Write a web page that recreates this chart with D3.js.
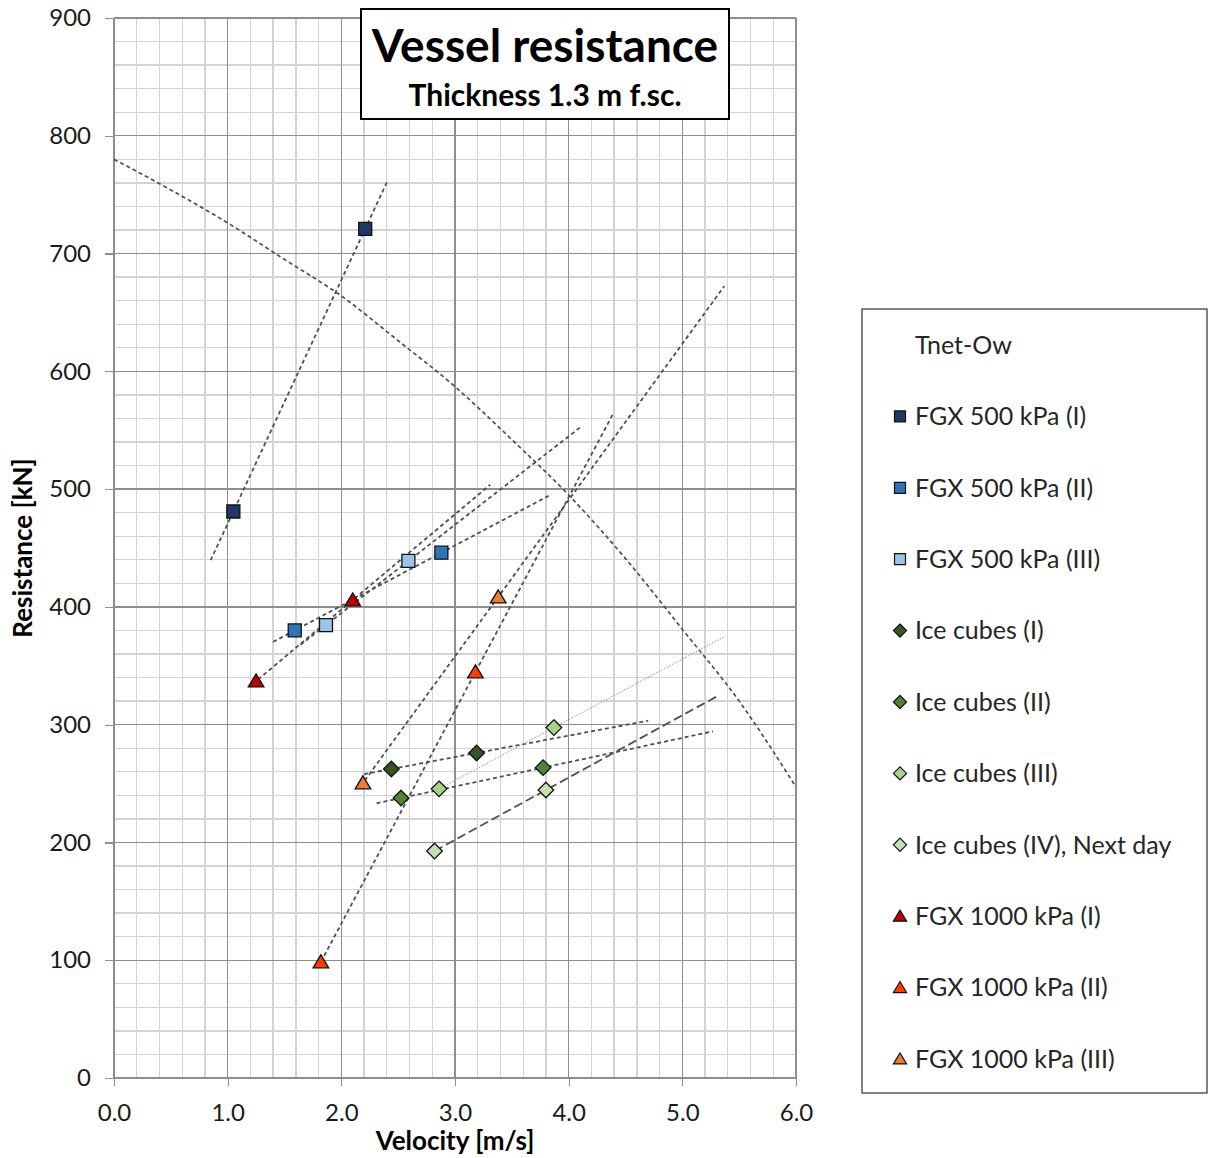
<!DOCTYPE html>
<html>
<head>
<meta charset="utf-8">
<script src="https://d3js.org/d3.v7.min.js"></script>
<style>
  body { margin: 0; background: #fff; }
  text { font-family: Lato, "Open Sans", sans-serif; }
  .grid-minor line { stroke: #d3d3d3; stroke-width: 1.3; shape-rendering: crispEdges; }
  .grid-major line { stroke: #8e8e8e; stroke-width: 1.3; shape-rendering: crispEdges; }
  .axis path { display: none; }
  .axis line { stroke: #8e8e8e; stroke-width: 1.3; shape-rendering: crispEdges; }
  .axis text { font-size: 24px; fill: #1a1a1a; }
</style>
</head>
<body>
<script>
// series shown with markers + linear trend lines
var names = ["FGX 500 kPa (I)", "FGX 500 kPa (II)", "FGX 500 kPa (III)",
             "Ice cubes (I)", "Ice cubes (II)", "Ice cubes (III)", "Ice cubes (IV), Next day",
             "FGX 1000 kPa (I)", "FGX 1000 kPa (II)", "FGX 1000 kPa (III)"];
var velocity = [[1.05, 2.21], [1.59, 2.88], [1.865, 2.59],
                [2.44, 3.19], [2.525, 3.775], [2.86, 3.87], [2.82, 3.80],
                [1.25, 2.10], [1.82, 3.18], [2.19, 3.38]];
var resistance = [[481, 721], [380, 446], [384.6, 439],
                  [262.4, 276], [237.7, 263.5], [245.5, 297.5], [192.7, 244.5],
                  [337, 405.8], [98.5, 344.7], [250.5, 408.4]];
// trend line x-range (velocity) for each series
var trendFrom = [0.85, 1.40, 1.64, 2.20, 2.31, 2.86, 2.82, 1.22, 1.82, 2.17];
var trendTo   = [2.40, 3.85, 4.10, 4.70, 5.27, 5.38, 5.30, 3.31, 4.39, 5.37];
var markers = ["square", "square", "square", "diamond", "diamond", "diamond", "diamond",
               "triangle", "triangle", "triangle"];
var fills = ["#1f3864", "#2e75b6", "#9dc3e6", "#375623", "#548235", "#a9d18e", "#c5e0b4",
             "#c00000", "#ff3b00", "#ed7d31"];
var trendStyle = ["dash", "dash", "dash", "dash", "dash", "dot", "long", "dash", "dash", "dash"];

// Tnet-Ow line
var tnetVel = [0, 0.5, 1.0, 1.5, 2.0, 2.5, 3.0, 3.5, 4.0, 4.5, 5.0, 5.5, 6.0];
var tnetRes = [780, 754, 726, 695, 664, 626, 587, 542, 495, 441, 381, 320, 247];

var xTicks = [0, 1, 2, 3, 4, 5, 6];
var yTicks = [0, 100, 200, 300, 400, 500, 600, 700, 800, 900];

var W = 1208, H = 1158;
var m = { left: 114, top: 18, right: 412, bottom: 80 };
var pw = W - m.left - m.right, ph = H - m.top - m.bottom;

var svg = d3.select("body").append("svg").attr("width", W).attr("height", H);
var g = svg.append("g").attr("transform", "translate(" + m.left + "," + m.top + ")");

var x = d3.scaleLinear().domain([0, 6]).range([0, pw]);
var y = d3.scaleLinear().domain([0, 900]).range([ph, 0]);

// minor grid
var gm = g.append("g").attr("class", "grid-minor");
gm.selectAll("line.v").data(d3.range(0, 6.001, 0.2)).enter().append("line")
  .attr("x1", d => x(d)).attr("x2", d => x(d)).attr("y1", 0).attr("y2", ph);
gm.selectAll("line.h").data(d3.range(0, 900.1, 20)).enter().append("line")
  .attr("y1", d => y(d)).attr("y2", d => y(d)).attr("x1", 0).attr("x2", pw);

// major grid
var gM = g.append("g").attr("class", "grid-major");
gM.selectAll("line.v").data(xTicks).enter().append("line")
  .attr("x1", d => x(d)).attr("x2", d => x(d)).attr("y1", 0).attr("y2", ph);
gM.selectAll("line.h").data(yTicks).enter().append("line")
  .attr("y1", d => y(d)).attr("y2", d => y(d)).attr("x1", 0).attr("x2", pw);

// axes
g.append("g").attr("class", "axis").attr("transform", "translate(0," + ph + ")")
  .call(d3.axisBottom(x).tickValues(xTicks).tickFormat(d3.format(".1f")).tickSize(8).tickPadding(18));
g.append("g").attr("class", "axis")
  .call(d3.axisLeft(y).tickValues(yTicks).tickSize(9).tickPadding(14));

// axis titles
svg.append("text").attr("x", 455).attr("y", 1150).attr("text-anchor", "middle")
  .attr("font-weight", "bold").attr("font-size", 26).text("Velocity [m/s]");
svg.append("text").attr("transform", "translate(32,548) rotate(-90)").attr("text-anchor", "middle")
  .attr("font-weight", "bold").attr("font-size", 26).text("Resistance [kN]");

var clip = svg.append("clipPath").attr("id", "pa").append("rect")
  .attr("width", pw).attr("height", ph);
var plot = g.append("g").attr("clip-path", "url(#pa)");

// Tnet-Ow curve
var line = d3.line().x(d => x(d[0])).y(d => y(d[1])).curve(d3.curveMonotoneX);
plot.append("path").datum(tnetVel.map((v, i) => [v, tnetRes[i]]))
  .attr("d", line).attr("fill", "none").attr("stroke", "#505050")
  .attr("stroke-width", 1.7).attr("stroke-dasharray", "4,3");

// linear regression trend lines
function fit(xs, ys) {
  var mx = d3.mean(xs), my = d3.mean(ys);
  var sxy = d3.sum(xs, (v, i) => (v - mx) * (ys[i] - my));
  var sxx = d3.sum(xs, v => (v - mx) * (v - mx));
  var b = sxy / sxx;
  return v => my + b * (v - mx);
}
var dashes = { dash: "4,3", dot: "1.5,1.5", long: "9,4" };
var strokes = { dash: "#505050", dot: "#a6a6a6", long: "#505050" };
var widths = { dash: 1.8, dot: 1.1, long: 1.8 };
names.forEach(function (n, i) {
  var f = fit(velocity[i], resistance[i]);
  var pts = [trendFrom[i], trendTo[i]].map(v => [v, f(v)]);
  plot.append("path").datum(pts).attr("d", d3.line().x(d => x(d[0])).y(d => y(d[1])))
    .attr("fill", "none").attr("stroke", strokes[trendStyle[i]])
    .attr("stroke-width", widths[trendStyle[i]]).attr("stroke-dasharray", dashes[trendStyle[i]]);
});

function shape(type, s) {
  var h = s / 2;
  if (type === "square") return "M" + (-h) + "," + (-h) + "h" + s + "v" + s + "h" + (-s) + "Z";
  if (type === "diamond") { var r = h * 1.2; return "M0," + (-r) + "L" + r + ",0L0," + r + "L" + (-r) + ",0Z"; }
  return "M0," + (-h * 1.1) + "L" + (h * 1.2) + "," + (h * 0.9) + "L" + (-h * 1.2) + "," + (h * 0.9) + "Z";
}

// markers
names.forEach(function (n, i) {
  plot.selectAll(null).data(velocity[i].map((v, k) => [v, resistance[i][k]])).enter()
    .append("path")
    .attr("transform", d => "translate(" + x(d[0]) + "," + y(d[1]) + ")")
    .attr("d", shape(markers[i], 13))
    .attr("fill", fills[i]).attr("stroke", "#111").attr("stroke-width", 1.3);
});

// title box
svg.append("rect").attr("x", 361).attr("y", 9).attr("width", 368).attr("height", 110)
  .attr("fill", "#fff").attr("stroke", "#000").attr("stroke-width", 2);
svg.append("text").attr("x", 545).attr("y", 62).attr("text-anchor", "middle")
  .attr("font-weight", "bold").attr("font-size", 46).text("Vessel resistance");
svg.append("text").attr("x", 545).attr("y", 106).attr("text-anchor", "middle")
  .attr("font-weight", "bold").attr("font-size", 30).text("Thickness 1.3 m f.sc.");

// legend
var lg = svg.append("g");
lg.append("rect").attr("x", 862).attr("y", 309).attr("width", 345).attr("height", 784)
  .attr("fill", "#fff").attr("stroke", "#404040").attr("stroke-width", 1.3);
var legendItems = ["Tnet-Ow"].concat(names);
legendItems.forEach(function (n, k) {
  var cy = 345 + k * 71.4;
  lg.append("text").attr("x", 915).attr("y", cy).attr("dy", "0.35em")
    .attr("font-size", 25).attr("fill", "#262626").text(n);
  if (k > 0) {
    lg.append("path").attr("transform", "translate(900," + cy + ")")
      .attr("d", shape(markers[k - 1], 11))
      .attr("fill", fills[k - 1]).attr("stroke", "#111").attr("stroke-width", 1.2);
  }
});
</script>
</body>
</html>
